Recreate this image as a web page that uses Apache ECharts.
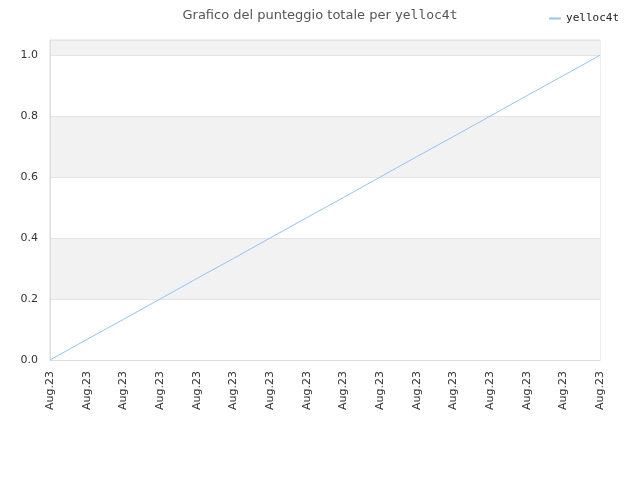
<!DOCTYPE html>
<html>
<head>
<meta charset="utf-8">
<script src="https://cdn.jsdelivr.net/npm/echarts@6/dist/echarts.min.js"></script>
<style>
  html, body { margin: 0; padding: 0; background: #fff; }
  #chart { width: 640px; height: 480px; }
</style>
</head>
<body>
<div id="chart"></div>
<script>
const seriesName = 'yelloc4t';
const dates = ['Aug.23', 'Aug.23', 'Aug.23', 'Aug.23', 'Aug.23', 'Aug.23', 'Aug.23', 'Aug.23',
               'Aug.23', 'Aug.23', 'Aug.23', 'Aug.23', 'Aug.23', 'Aug.23', 'Aug.23', 'Aug.23'];
const scores = [0, 0.067, 0.133, 0.2, 0.267, 0.333, 0.4, 0.467,
                0.533, 0.6, 0.667, 0.733, 0.8, 0.867, 0.933, 1];

const chart = echarts.init(document.getElementById('chart'));
chart.setOption({
  animation: false,
  title: {
    text: '{a|Grafico del punteggio totale per }{b|' + seriesName + '}',
    left: 'center',
    top: 4,
    textStyle: {
      rich: {
        a: { fontFamily: 'DejaVu Sans', fontSize: 13, color: '#555', fontWeight: 'normal' },
        b: { fontFamily: 'DejaVu Sans Mono', fontSize: 13, color: '#555', fontWeight: 'normal' }
      }
    }
  },
  legend: {
    right: 16,
    top: 8,
    icon: 'rect',
    itemWidth: 12,
    itemHeight: 2,
    itemGap: 5,
    textStyle: { fontFamily: 'DejaVu Sans Mono', fontSize: 11, color: '#222' },
    data: [seriesName]
  },
  grid: {
    left: 50, right: 40, top: 40, bottom: 120,
    show: true, borderColor: '#ddd', borderWidth: 1
  },
  xAxis: {
    type: 'category',
    boundaryGap: false,
    data: dates,
    axisLine: { lineStyle: { color: '#ddd' } },
    axisTick: { show: false },
    axisLabel: {
      rotate: 90, interval: 0, margin: 11,
      fontFamily: 'DejaVu Sans', fontSize: 11, color: '#333'
    }
  },
  yAxis: {
    type: 'value',
    min: 0, max: 1.05, interval: 0.2,
    axisLine: { show: true, lineStyle: { color: '#ddd' } },
    axisTick: { show: false },
    axisLabel: {
      fontFamily: 'DejaVu Sans', fontSize: 11, color: '#333', margin: 12,
      showMaxLabel: false,
      formatter: v => v.toFixed(1)
    },
    splitLine: { lineStyle: { color: '#e4e4e4' } },
    splitArea: { show: true, areaStyle: { color: ['#ffffff', '#f2f2f2'] } }
  },
  series: [{
    name: seriesName,
    type: 'line',
    data: scores,
    showSymbol: false,
    lineStyle: { color: '#92c5f7', width: 1 },
    itemStyle: { color: '#92c5f7' }
  }]
});
</script>
</body>
</html>
